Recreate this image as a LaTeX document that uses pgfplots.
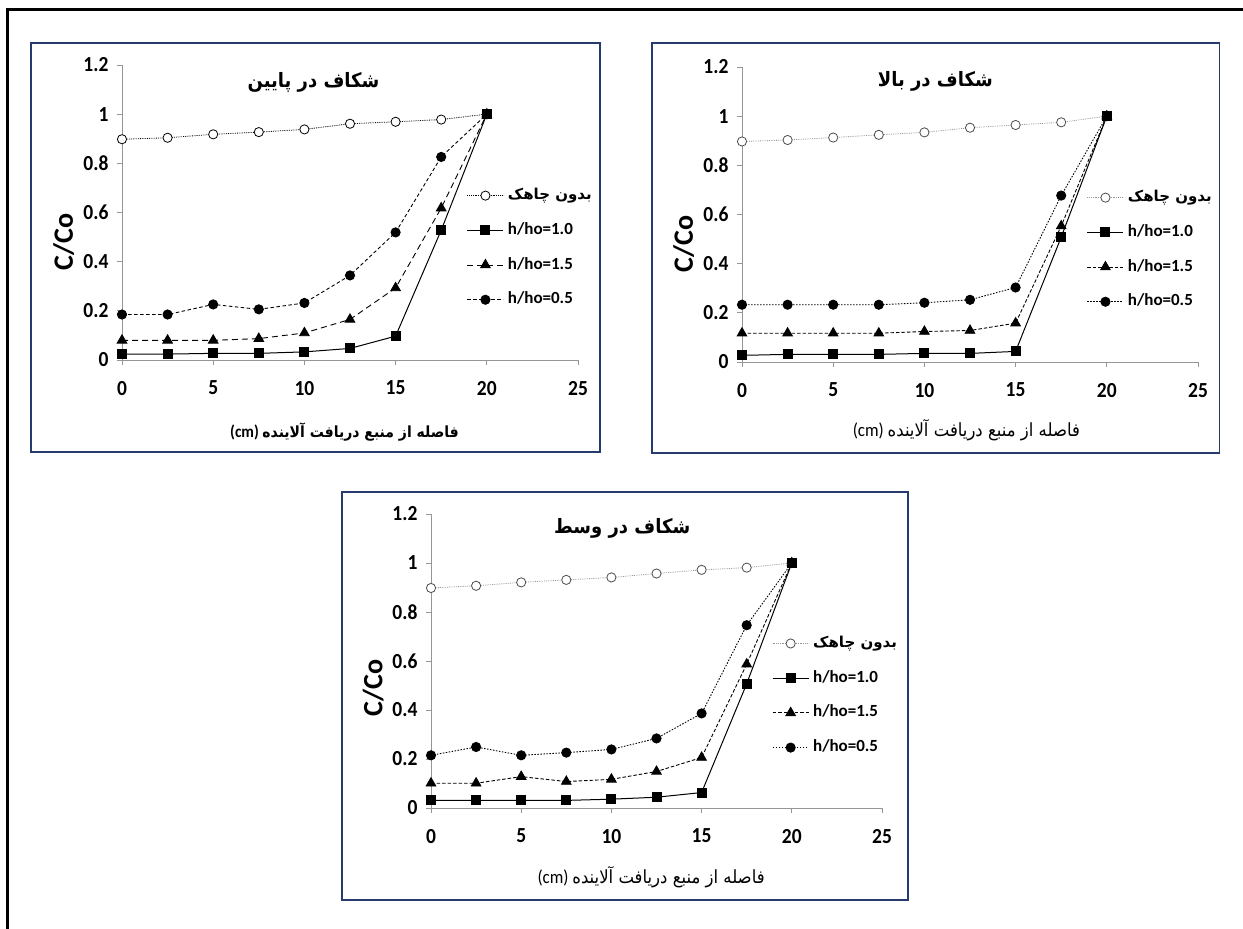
\documentclass[border=0pt]{standalone}
\usepackage{fontspec}
\setmainfont{Carlito}
\newfontfamily\arabicfont[Script=Arabic]{DejaVu Sans}
\TeXXeTstate=1
\usepackage{pgfplots}
\usepackage{pgfplotstable}
\pgfplotsset{compat=1.18}
\definecolor{framec}{RGB}{38,58,110}
\definecolor{axgray}{RGB}{150,150,150}
\definecolor{lgray}{RGB}{150,150,150}
\newcommand{\fa}[1]{{\arabicfont\beginR #1\endR}}

\pgfplotstableread{
x     a     b     c     d
0     0.898 0.024 0.080 0.185
2.5   0.904 0.024 0.080 0.185
5     0.918 0.027 0.080 0.226
7.5   0.927 0.027 0.087 0.206
10    0.938 0.033 0.110 0.232
12.5  0.961 0.047 0.165 0.344
15    0.969 0.097 0.293 0.519
17.5  0.978 0.528 0.618 0.826
20    1.000 1.000 1.000 1.000
}\tabA

\pgfplotstableread{
x     a     b     c     d
0     0.897 0.027 0.117 0.233
2.5   0.903 0.031 0.117 0.233
5     0.913 0.031 0.117 0.233
7.5   0.924 0.031 0.117 0.233
10    0.934 0.035 0.124 0.241
12.5  0.953 0.035 0.128 0.253
15    0.964 0.043 0.158 0.303
17.5  0.975 0.508 0.553 0.677
20    1.000 1.000 1.000 1.000
}\tabB

\pgfplotstableread{
x     a     b     c     d
0     0.898 0.031 0.101 0.215
2.5   0.907 0.031 0.101 0.249
5     0.921 0.031 0.128 0.215
7.5   0.931 0.031 0.108 0.226
10    0.941 0.036 0.117 0.239
12.5  0.957 0.044 0.149 0.284
15    0.972 0.063 0.206 0.386
17.5  0.981 0.507 0.587 0.746
20    1.000 1.000 1.000 1.000
}\tabC

\pgfplotsset{
  panel/.style={
    scale only axis, width=456pt, height=295pt,
    xmin=0, xmax=25, ymin=0, ymax=1.2,
    axis x line*=bottom, axis y line*=left,
    axis line style={axgray, line width=0.8pt},
    xtick={0,5,10,15,20,25}, xticklabels={0,5,10,15,20,25},
    ytick={0,0.2,0.4,0.6,0.8,1,1.2}, yticklabels={0,0.2,0.4,0.6,0.8,1,1.2},
    tick align=outside, major tick length=5pt,
    tick style={axgray, line width=0.8pt},
    /pgf/number format/assume math mode=true,
    ticklabel style={font=\fontsize{19.5}{22}\selectfont\bfseries, yscale=1.1},
    xticklabel style={yshift=-11pt},
    yticklabel style={xshift=-5pt},
    clip=false,
    legend cell align=left,
    legend style={draw=none, fill=none, inner sep=0pt, anchor=north west,
        font=\fontsize{17}{20}\selectfont\bfseries,
        nodes={inner sep=1pt, text height=12pt, text depth=4pt},
        row sep=16.7pt, column sep=3pt},
    legend image code/.code={\draw[mark repeat=2,mark phase=2,##1] plot coordinates {(0pt,0pt) (18pt,0pt) (36pt,0pt)};},
  },
  sq/.style={black, line width=1pt, solid, mark=square*, mark size=4.5pt, mark options={solid, fill=black}},
  tri/.style={black, line width=0.9pt, mark=triangle*, mark size=5.5pt, mark options={solid, fill=black}},
  dot/.style={black, line width=0.9pt, mark=*, mark size=4.6pt, mark options={solid, fill=black}},
}

\begin{document}
\begin{tikzpicture}
\path[use as bounding box] (0,0) rectangle (1243pt,929pt);
% outer frame
\draw[line width=3pt] (7.3pt,0pt) -- (7.3pt,919pt) -- (1243pt,919pt);
% panel frames
\draw[framec, line width=1.8pt] (31pt,477pt) rectangle (600pt,886pt);
\draw[framec, line width=1.8pt] (652pt,476pt) rectangle (1219.5pt,886pt);
\draw[framec, line width=1.8pt] (342pt,29pt) rectangle (908pt,437pt);

% ---------- panel 1 ----------
\begin{axis}[panel, at={(122pt,569pt)}, anchor=south west,
  legend style={at={(axis cs:18.9,0.706)}}]
\addplot[black, line width=0.8pt, densely dotted, mark=*, mark size=4.6pt, mark options={solid, fill=white, draw=black}] table[x=x,y=a]{\tabA};
\addlegendentry{{\fontsize{15}{18}\selectfont\fa{بدون چاهک}}}
\addplot[sq] table[x=x,y=b]{\tabA};
\addlegendentry{h/ho=1.0}
\addplot[tri, dash pattern=on 6pt off 4pt] table[x=x,y=c]{\tabA};
\addlegendentry{h/ho=1.5}
\addplot[dot, dash pattern=on 3.5pt off 2.5pt] table[x=x,y=d]{\tabA};
\addlegendentry{h/ho=0.5}
\node[font=\arabicfont\fontsize{18}{20}\selectfont\bfseries, yscale=1.1] at (axis cs:10.5,1.128) {\beginR شکاف در پایین\endR};
\node[font=\fontsize{15.5}{18}\selectfont\bfseries, yscale=1.1] at (axis cs:12.2,-0.293) {(cm) {\arabicfont\fontsize{14}{18}\selectfont\bfseries\beginR فاصله از منبع دریافت آلاینده\endR}};
\node[rotate=90, font=\fontsize{28}{32}\selectfont\bfseries] at (axis cs:-3.2,0.48) {C/Co};
\end{axis}

% ---------- panel 2 ----------
\begin{axis}[panel, at={(742pt,567pt)}, anchor=south west,
  legend style={at={(axis cs:18.9,0.706)}}]
\addplot[lgray, line width=0.8pt, densely dotted, mark=*, mark size=4.6pt, mark options={solid, fill=white, draw=black!70}] table[x=x,y=a]{\tabB};
\addlegendentry{{\fontsize{15}{18}\selectfont\fa{بدون چاهک}}}
\addplot[sq] table[x=x,y=b]{\tabB};
\addlegendentry{h/ho=1.0}
\addplot[tri, dash pattern=on 3.5pt off 2pt] table[x=x,y=c]{\tabB};
\addlegendentry{h/ho=1.5}
\addplot[dot, dash pattern=on 1.5pt off 1.5pt] table[x=x,y=d]{\tabB};
\addlegendentry{h/ho=0.5}
\node[font=\arabicfont\fontsize{18}{20}\selectfont\bfseries, yscale=1.1] at (axis cs:10.6,1.14) {\beginR شکاف در بالا\endR};
\node[font=\fontsize{17}{18}\selectfont, yscale=1.1] at (axis cs:12.3,-0.276) {(cm) {\arabicfont\fontsize{16.5}{18}\selectfont\beginR فاصله از منبع دریافت آلاینده\endR}};
\node[rotate=90, font=\fontsize{28}{32}\selectfont\bfseries] at (axis cs:-3.2,0.48) {C/Co};
\end{axis}

% ---------- panel 3 ----------
\begin{axis}[panel, width=451pt, height=294pt, at={(431pt,121pt)}, anchor=south west,
  legend style={at={(axis cs:18.9,0.709)}}]
\addplot[lgray, line width=0.8pt, densely dotted, mark=*, mark size=4.6pt, mark options={solid, fill=white, draw=black!70}] table[x=x,y=a]{\tabC};
\addlegendentry{{\fontsize{15}{18}\selectfont\fa{بدون چاهک}}}
\addplot[sq] table[x=x,y=b]{\tabC};
\addlegendentry{h/ho=1.0}
\addplot[tri, dash pattern=on 3.5pt off 2pt] table[x=x,y=c]{\tabC};
\addlegendentry{h/ho=1.5}
\addplot[dot, dash pattern=on 1.5pt off 1.5pt] table[x=x,y=d]{\tabC};
\addlegendentry{h/ho=0.5}
\node[font=\arabicfont\fontsize{18}{20}\selectfont\bfseries, yscale=1.1] at (axis cs:10.6,1.14) {\beginR شکاف در وسط\endR};
\node[font=\fontsize{17}{18}\selectfont, yscale=1.1] at (axis cs:12.2,-0.282) {(cm) {\arabicfont\fontsize{16.5}{18}\selectfont\beginR فاصله از منبع دریافت آلاینده\endR}};
\node[rotate=90, font=\fontsize{28}{32}\selectfont\bfseries] at (axis cs:-3.2,0.49) {C/Co};
\end{axis}
\end{tikzpicture}
\end{document}
